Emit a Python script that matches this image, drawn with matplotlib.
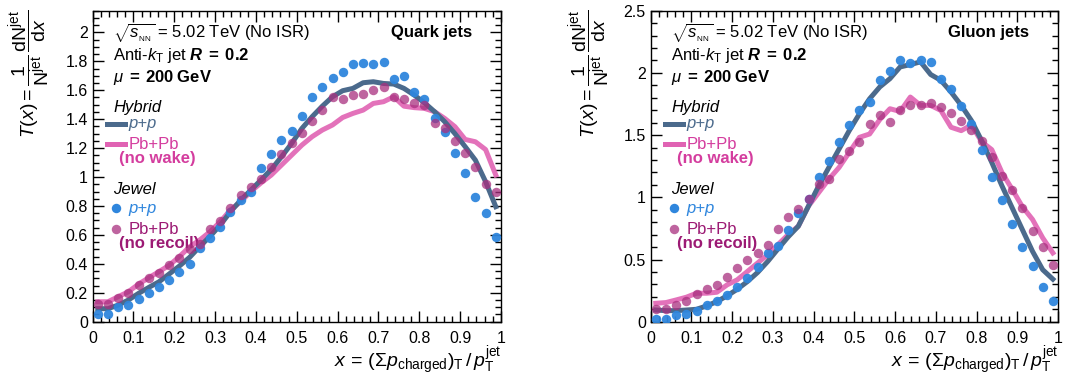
import numpy as np
import matplotlib
matplotlib.use("Agg")
import matplotlib.pyplot as plt
from matplotlib.ticker import MultipleLocator

plt.rcParams['font.family'] = ['Liberation Sans', 'DejaVu Sans']
plt.rcParams['mathtext.fontset'] = 'custom'
plt.rcParams['mathtext.rm'] = 'Liberation Sans'
plt.rcParams['mathtext.it'] = 'Liberation Sans:italic'
plt.rcParams['mathtext.bf'] = 'Liberation Sans:bold'
plt.rcParams['mathtext.bfit'] = 'Liberation Sans:bold:italic'

# bin centres, 40 bins of width 0.025
x_bins = np.arange(40) * 0.025 + 0.0125

# Quark jets
quark_jewel_pp = [0.053, 0.053, 0.10, 0.115, 0.16, 0.196, 0.24, 0.288, 0.346, 0.40,
                  0.507, 0.58, 0.657, 0.756, 0.84, 0.90, 1.064, 1.157, 1.256, 1.32,
                  1.42, 1.55, 1.62, 1.687, 1.726, 1.78, 1.79, 1.78, 1.795, 1.68,
                  1.70, 1.59, 1.54, 1.405, 1.31, 1.163, 1.025, 0.862, 0.753, 0.583]
quark_jewel_pbpb = [0.122, 0.122, 0.166, 0.196, 0.253, 0.30, 0.339, 0.39, 0.442, 0.50,
                    0.535, 0.638, 0.698, 0.783, 0.876, 0.929, 0.984, 1.07, 1.157, 1.237,
                    1.306, 1.39, 1.463, 1.555, 1.54, 1.57, 1.574, 1.60, 1.624, 1.553,
                    1.537, 1.514, 1.498, 1.376, 1.341, 1.249, 1.164, 1.067, 0.952, 0.896]
quark_hybrid_pp = [0.09, 0.09, 0.115, 0.15, 0.196, 0.237, 0.276, 0.33, 0.385, 0.445,
                   0.52, 0.59, 0.668, 0.76, 0.84, 0.91, 0.98, 1.053, 1.14, 1.233,
                   1.336, 1.417, 1.49, 1.555, 1.597, 1.613, 1.652, 1.659, 1.647, 1.643,
                   1.613, 1.567, 1.514, 1.452, 1.382, 1.30, 1.21, 1.117, 0.968, 0.795]
quark_hybrid_pbpb = [0.138, 0.138, 0.173, 0.207, 0.26, 0.304, 0.346, 0.39, 0.45, 0.518,
                     0.565, 0.622, 0.691, 0.772, 0.83, 0.90, 0.96, 1.014, 1.083, 1.152,
                     1.221, 1.279, 1.325, 1.36, 1.412, 1.44, 1.463, 1.509, 1.521, 1.555,
                     1.49, 1.48, 1.475, 1.452, 1.405, 1.348, 1.26, 1.244, 1.19, 1.014]

# Gluon jets
gluon_jewel_pp = [0.019, 0.019, 0.05, 0.062, 0.086, 0.135, 0.167, 0.213, 0.278, 0.35,
                  0.44, 0.553, 0.612, 0.741, 0.87, 0.99, 1.167, 1.294, 1.442, 1.582,
                  1.698, 1.765, 1.94, 2.013, 2.10, 2.083, 2.10, 2.089, 1.954, 1.868,
                  1.733, 1.59, 1.383, 1.164, 0.978, 0.787, 0.60, 0.445, 0.283, 0.167]
gluon_jewel_pbpb = [0.10, 0.10, 0.135, 0.167, 0.221, 0.261, 0.296, 0.356, 0.431, 0.499,
                    0.553, 0.62, 0.749, 0.841, 0.908, 0.99, 1.11, 1.151, 1.307, 1.375,
                    1.442, 1.59, 1.658, 1.604, 1.698, 1.744, 1.744, 1.76, 1.725, 1.679,
                    1.615, 1.544, 1.456, 1.326, 1.172, 1.057, 0.916, 0.728, 0.601, 0.453]
gluon_hybrid_pp = [0.094, 0.089, 0.089, 0.094, 0.10, 0.127, 0.162, 0.208, 0.261, 0.323,
                   0.396, 0.485, 0.585, 0.682, 0.768, 0.93, 1.092, 1.24, 1.388, 1.536,
                   1.671, 1.792, 1.887, 1.954, 2.048, 2.067, 2.089, 1.987, 1.94, 1.846,
                   1.739, 1.617, 1.456, 1.28, 1.092, 0.916, 0.741, 0.566, 0.418, 0.342]
gluon_hybrid_pbpb = [0.148, 0.154, 0.175, 0.197, 0.229, 0.229, 0.237, 0.296, 0.337, 0.404,
                     0.472, 0.539, 0.62, 0.70, 0.768, 0.93, 1.038, 1.146, 1.24, 1.361,
                     1.482, 1.509, 1.625, 1.712, 1.69, 1.806, 1.739, 1.739, 1.698, 1.563,
                     1.536, 1.582, 1.447, 1.383, 1.199, 1.065, 0.925, 0.822, 0.674, 0.553]

c_blue = '#2f86dd'
c_purple = '#a8307f'
c_purple_txt = '#9c1a74'
c_slate = '#4b6a8c'
c_pink = '#e063b3'
c_pink_txt = '#d43d9e'

fig = plt.figure(figsize=(10.8, 3.81), dpi=100)

ylabel = r'$T(x) = \dfrac{1}{\mathrm{N}^{\mathrm{jet}}}\,\dfrac{\mathrm{dN}^{\mathrm{jet}}}{\mathrm{d}x}$'
xlabel = r'$x\,=\,(\Sigma p_{\mathrm{charged}})_{\mathrm{T}}\,/\,p_{\mathrm{T}}^{\mathrm{jet}}$'


def panel(rect, jpp, jpb, hpp, hpb, ymax, major, minor, title, ylab_x):
    ax = fig.add_axes(rect)
    ax.plot(x_bins, hpb, color=c_pink, lw=3.6, alpha=0.9, zorder=2)
    ax.plot(x_bins, hpp, color=c_slate, lw=3.6, zorder=3)
    ax.plot(x_bins, jpp, 'o', color=c_blue, ms=6.8, mew=0, alpha=0.95, zorder=4)
    ax.plot(x_bins, jpb, 'o', color=c_purple, ms=6.8, mew=0, alpha=0.75, zorder=5)
    ax.set_xlim(0, 1)
    ax.set_ylim(0, ymax)
    ax.xaxis.set_major_locator(MultipleLocator(0.1))
    ax.xaxis.set_minor_locator(MultipleLocator(0.02))
    ax.yaxis.set_major_locator(MultipleLocator(major))
    ax.yaxis.set_minor_locator(MultipleLocator(minor))
    ax.xaxis.set_major_formatter(plt.FuncFormatter(lambda v, p: '%g' % round(v, 2)))
    ax.yaxis.set_major_formatter(plt.FuncFormatter(lambda v, p: '%g' % round(v, 2)))
    ax.tick_params(which='both', direction='in', top=True, right=True, labelsize=11.5, width=1)
    ax.tick_params(which='major', length=8)
    ax.tick_params(which='minor', length=4)
    ax.tick_params(axis='x', pad=7)
    for s in ax.spines.values():
        s.set_linewidth(1)

    T = ax.transAxes
    fs = 12
    ax.text(0.05, 0.93, r'$\sqrt{s_{_{\mathrm{NN}}}}$ = 5.02 TeV (No ISR)', transform=T, fontsize=fs, va='center')
    ax.text(0.05, 0.855, r'Anti-$k_{\mathrm{T}}$ jet $\mathbfit{R}\;\mathbf{=\;0.2}$', transform=T, fontsize=fs, va='center')
    ax.text(0.05, 0.785, r'$\mu\;\mathbf{=\;200\;GeV}$', transform=T, fontsize=fs, va='center')
    ax.text(0.93, 0.93, title, transform=T, fontsize=fs, fontweight='bold', ha='right', va='center')

    ax.text(0.05, 0.69, 'Hybrid', transform=T, fontsize=fs, style='italic', va='center')
    ax.plot([0.035, 0.08], [0.637, 0.637], transform=T, color=c_slate, lw=3.6, clip_on=False)
    ax.text(0.087, 0.637, 'p+p', transform=T, fontsize=fs, style='italic', color=c_slate, va='center')
    ax.plot([0.035, 0.08], [0.57, 0.57], transform=T, color=c_pink, lw=3.6, clip_on=False)
    ax.text(0.087, 0.57, 'Pb+Pb', transform=T, fontsize=fs, color=c_pink_txt, va='center')
    ax.text(0.065, 0.525, '(no wake)', transform=T, fontsize=fs, color=c_pink_txt, fontweight='bold', va='center')

    ax.text(0.05, 0.425, 'Jewel', transform=T, fontsize=fs, style='italic', va='center')
    ax.plot([0.057], [0.365], 'o', transform=T, color=c_blue, ms=6.8, mew=0, clip_on=False)
    ax.text(0.087, 0.365, 'p+p', transform=T, fontsize=fs, style='italic', color=c_blue, va='center')
    ax.plot([0.057], [0.298], 'o', transform=T, color=c_purple, ms=6.8, mew=0, alpha=0.75, clip_on=False)
    ax.text(0.087, 0.298, 'Pb+Pb', transform=T, fontsize=fs, color=c_purple_txt, va='center')
    ax.text(0.065, 0.25, '(no recoil)', transform=T, fontsize=fs, color=c_purple_txt, fontweight='bold', va='center')

    ax.text(1.0, -0.125, xlabel, transform=T, fontsize=14, ha='right', va='center')
    fig.text(ylab_x, 0.975, ylabel, rotation=90, fontsize=14, ha='center', va='top')
    return ax


panel([0.0858, 0.1556, 0.378, 0.8163], quark_jewel_pp, quark_jewel_pbpb,
      quark_hybrid_pp, quark_hybrid_pbpb, 2.15, 0.2, 0.05, 'Quark jets', 0.028)
panel([0.6025, 0.1556, 0.3771, 0.8163], gluon_jewel_pp, gluon_jewel_pbpb,
      gluon_hybrid_pp, gluon_hybrid_pbpb, 2.5, 0.5, 0.1, 'Gluon jets', 0.546)

fig.savefig('out.png', dpi=100)
